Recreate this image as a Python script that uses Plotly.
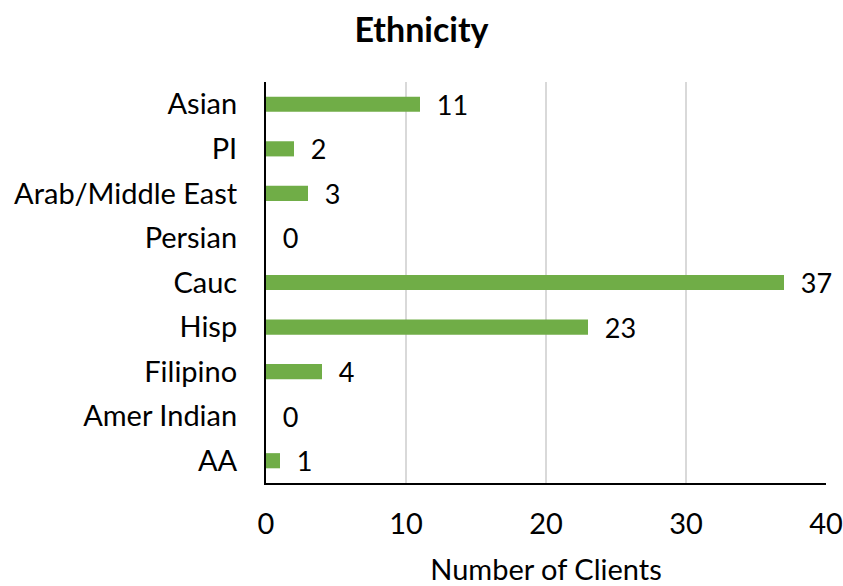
import plotly.graph_objects as go

categories = ["Asian", "PI", "Arab/Middle East", "Persian", "Cauc", "Hisp",
              "Filipino", "Amer Indian", "AA"]
clients = [11, 2, 3, 0, 37, 23, 4, 0, 1]
x_ticks = [0, 10, 20, 30, 40]

FONT = "Lato, Noto Sans, sans-serif"

fig = go.Figure(go.Bar(
    y=categories,
    x=clients,
    orientation="h",
    marker=dict(color="#70AD47", line=dict(width=0)),
    width=0.34,
    text=["  " + str(v) for v in clients],
    textposition="outside",
    textfont=dict(family=FONT, size=27, color="#000000"),
    constraintext="none",
    cliponaxis=False,
))

fig.update_layout(
    width=843,
    height=586,
    margin=dict(l=266, r=17, t=82, b=103),
    paper_bgcolor="white",
    plot_bgcolor="white",
    showlegend=False,
    font=dict(family=FONT, size=29, color="#000000"),
    title=dict(text="<b>Ethnicity</b>", x=0.5, xanchor="center",
               y=0.948, yanchor="middle",
               font=dict(family=FONT, size=34, color="#000000")),
    xaxis=dict(
        range=[0, 40],
        tickvals=x_ticks,
        showgrid=True,
        gridcolor="#D9D9D9",
        gridwidth=1.5,
        zeroline=False,
        showline=True,
        linecolor="#000000",
        linewidth=2,
        ticks="",
        ticklabelstandoff=14,
        tickfont=dict(size=29),
        automargin=False,
        title=dict(text="Number of Clients", font=dict(size=29), standoff=28),
    ),
    yaxis=dict(
        categoryorder="array",
        categoryarray=categories[::-1],
        autorange=True,
        showgrid=False,
        zeroline=False,
        showline=True,
        linecolor="#000000",
        linewidth=2,
        ticks="",
        ticklabelstandoff=21,
        tickfont=dict(size=29),
        automargin=False,
    ),
)

# page body has a default 8px margin; drop it so the chart sits at the corner
fig.write_html("out.html", config={"displayModeBar": False},
               post_script="document.body.style.margin='0';")
